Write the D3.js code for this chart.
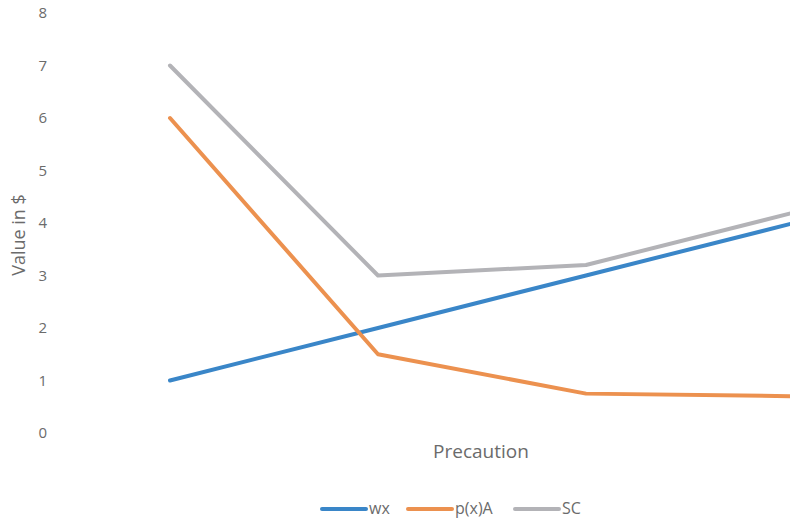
<!DOCTYPE html>
<html>
<head>
<meta charset="utf-8">
<script src="https://cdn.jsdelivr.net/npm/d3@7"></script>
<style>
  body { margin: 0; background: #fff; }
  svg text { font-family: "Open Sans", "Liberation Sans", sans-serif; fill: #6b6b6b; }
</style>
</head>
<body>
<svg id="chart" width="790" height="519"></svg>
<script>
// Data
const categories = ["1", "2", "3", "4"];
const wx = [1, 2, 3, 4];
const pxA = [6, 1.5, 0.75, 0.7];
const sc = [7, 3, 3.2, 4.2];
const yTicks = [0, 1, 2, 3, 4, 5, 6, 7, 8];

const seriesNames = ["wx", "p(x)A", "SC"];
const seriesValues = [wx, pxA, sc];
const colors = ["#3A86C8", "#EC914F", "#B3B3B7"];

const svg = d3.select("#chart");

// Scales (plot area extends past the right edge, as in the original crop)
const xScale = d3.scalePoint()
    .domain(categories)
    .range([170, 794]);

const yScale = d3.scaleLinear()
    .domain([0, 8])
    .range([433, 13]);

// Y axis labels
const yAxis = svg.append("g")
    .attr("transform", "translate(47,0)")
    .call(d3.axisLeft(yScale).tickValues(yTicks).tickSize(0).tickPadding(0));
yAxis.select(".domain").remove();
yAxis.selectAll("text")
    .style("font-family", '"Open Sans", sans-serif')
    .style("font-size", "15px")
    .attr("fill", "#6b6b6b");

// Axis titles
svg.append("text")
    .attr("transform", "translate(25,235) rotate(-90)")
    .attr("text-anchor", "middle")
    .style("font-size", "18px")
    .text("Value in $");

svg.append("text")
    .attr("x", 481)
    .attr("y", 458)
    .attr("text-anchor", "middle")
    .style("font-size", "19px")
    .text("Precaution");

// Lines
const line = d3.line()
    .x((d, i) => xScale(categories[i]))
    .y(d => yScale(d));

svg.selectAll(".series")
    .data(seriesValues)
    .join("path")
    .attr("class", "series")
    .attr("fill", "none")
    .attr("stroke", (d, i) => colors[i])
    .attr("stroke-width", 4)
    .attr("stroke-linecap", "round")
    .attr("stroke-linejoin", "round")
    .attr("d", line);

// Legend
const legendX = [322, 408, 515];
const legend = svg.selectAll(".legend")
    .data(seriesNames)
    .join("g")
    .attr("class", "legend")
    .attr("transform", (d, i) => `translate(${legendX[i]},509)`);

legend.append("line")
    .attr("x1", 0).attr("x2", 44)
    .attr("stroke", (d, i) => colors[i])
    .attr("stroke-width", 4)
    .attr("stroke-linecap", "round");

legend.append("text")
    .attr("x", 47)
    .attr("y", 5)
    .style("font-size", "16px")
    .text(d => d);
</script>
</body>
</html>
